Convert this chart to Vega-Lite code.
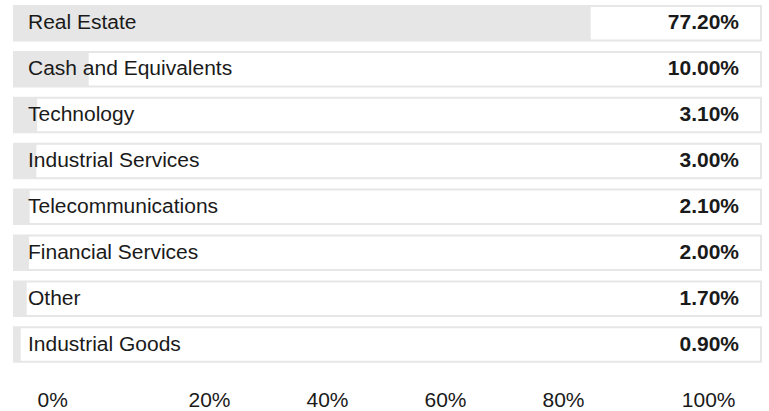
{
  "$schema": "https://vega.github.io/schema/vega-lite/v6.json",
  "autosize": "none",
  "width": 747,
  "height": 355.8,
  "padding": {"left": 14, "top": 6, "right": 8, "bottom": 49},
  "background": "white",
  "config": {"view": {"stroke": null}, "font": "Liberation Sans"},
  "data": {"values": [
    {"sector": "Real Estate", "weight": 0.772},
    {"sector": "Cash and Equivalents", "weight": 0.10},
    {"sector": "Technology", "weight": 0.031},
    {"sector": "Industrial Services", "weight": 0.03},
    {"sector": "Telecommunications", "weight": 0.021},
    {"sector": "Financial Services", "weight": 0.02},
    {"sector": "Other", "weight": 0.017},
    {"sector": "Industrial Goods", "weight": 0.009}
  ]},
  "encoding": {
    "y": {"field": "sector", "type": "nominal", "sort": null, "axis": null,
          "scale": {"paddingInner": 0.248, "paddingOuter": 0}}
  },
  "layer": [
    {
      "layer": [
        {
          "mark": {"type": "rect", "fill": "white", "stroke": "#e6e6e6", "strokeWidth": 2},
          "encoding": {
            "x": {"datum": 0, "type": "quantitative", "scale": {"domain": [0, 1]}, "axis": null},
            "x2": {"datum": 1}
          }
        },
        {
          "mark": {"type": "bar", "fill": "#e6e6e6"},
          "encoding": {
            "x": {"field": "weight", "type": "quantitative", "scale": {"domain": [0, 1]}, "axis": null}
          }
        },
        {
          "mark": {"type": "text", "align": "left", "baseline": "middle", "dx": 14, "fontSize": 21, "color": "#1a1a1a"},
          "encoding": {
            "x": {"datum": 0, "type": "quantitative", "scale": {"domain": [0, 1]}, "axis": null},
            "text": {"field": "sector"}
          }
        },
        {
          "mark": {"type": "text", "align": "right", "baseline": "middle", "dx": -22, "fontSize": 21, "fontWeight": "bold", "color": "#1a1a1a"},
          "encoding": {
            "x": {"datum": 1, "type": "quantitative", "scale": {"domain": [0, 1]}, "axis": null},
            "text": {"field": "weight", "format": ".2%"}
          }
        }
      ]
    },
    {
      "mark": {"type": "point", "opacity": 0},
      "encoding": {
        "x": {"field": "weight", "type": "quantitative",
              "scale": {"domain": [0, 1], "range": [77, 667]},
              "axis": {"values": [0, 0.2, 0.4, 0.6, 0.8, 1], "format": ".0%", "domain": false, "ticks": false, "tickSize": 0, "grid": false,
                       "labelFontSize": 21, "labelColor": "#1a1a1a", "labelBaseline": "alphabetic", "labelPadding": 45, "labelFlush": true, "labelFlushOffset": 54, "title": null}}
      }
    }
  ],
  "resolve": {"scale": {"x": "independent"}, "axis": {"x": "independent"}}
}
